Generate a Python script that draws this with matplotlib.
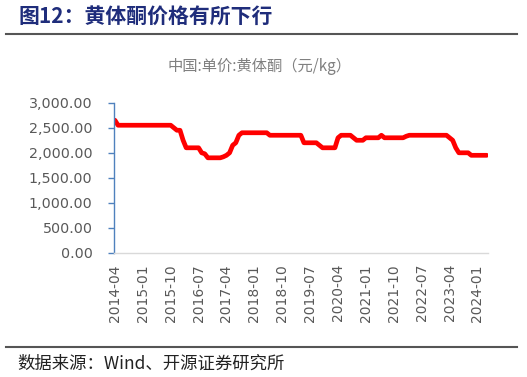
import matplotlib
matplotlib.use("Agg")
import matplotlib.pyplot as plt
from matplotlib.lines import Line2D

plt.rcParams['font.family'] = ['DejaVu Sans', 'Noto Sans CJK SC']

# Monthly series 2014-04 .. 2024-04 (yuan/kg)
months = [f"{2014 + (3 + i) // 12}-{(3 + i) % 12 + 1:02d}" for i in range(121)]
values = (
    [2650] + [2550] * 18 + [2500, 2450, 2450, 2250] + [2100] * 5 +
    [2000, 1980] + [1900] * 5 + [1920, 1950, 2000, 2150, 2200, 2350] +
    [2400] * 9 + [2350] * 11 + [2200] * 5 + [2150] + [2100] * 5 +
    [2300] + [2350] * 4 + [2300] + [2250] * 3 + [2300] * 5 + [2350] +
    [2300] * 7 + [2330] + [2350] * 13 + [2300, 2250, 2100, 2000] +
    [2000] * 3 + [1950] * 6
)
values = values[:121]
tick_labels = months[::9]
y_ticks = [0, 500, 1000, 1500, 2000, 2500, 3000]

fig = plt.figure(figsize=(5.27, 3.77), dpi=100)
ax = fig.add_axes([114 / 527, 1 - 253 / 377, (488 - 114) / 527, (253 - 102.7) / 377])

x = list(range(len(values)))
ax.plot(x, values, color='#ff0000', lw=3.4, solid_joinstyle='round', solid_capstyle='round')
ax.set_xlim(-0.3, 120.4)
ax.set_ylim(0, 3000)
ax.set_yticks(y_ticks)
ax.set_yticklabels([f"{v:,.2f}" for v in y_ticks], color='#595959', fontsize=10.3)
ax.set_xticks(x[::9])
ax.set_xticklabels(tick_labels, rotation=90, color='#595959', fontsize=10)
for s in ['top', 'right']:
    ax.spines[s].set_visible(False)
ax.spines['left'].set_color('#4f81bd')
ax.spines['left'].set_linewidth(1.0)
ax.spines['bottom'].set_color('#d9d9d9')
ax.spines['bottom'].set_linewidth(1.0)
ax.tick_params(axis='y', colors='#4f81bd', length=4.5, width=1, pad=11, labelcolor='#595959')
ax.tick_params(axis='x', length=0, pad=8)

fig.text(260 / 527, 1 - 66 / 377, "中国:单价:黄体酮（元/kg）", ha='center', va='center',
         fontsize=11, color='#808080', family=['Noto Sans CJK SC', 'DejaVu Sans'])

fig.text(18 / 527, 1 - 16 / 377, "图12：黄体酮价格有所下行", ha='left', va='center',
         fontsize=15, fontweight='bold', color='#1f2d7b', family=['Noto Sans CJK SC', 'DejaVu Sans'])

fig.add_artist(Line2D([6 / 527, 517 / 527], [1 - 33.5 / 377] * 2, color='#555555', lw=1.5,
                      transform=fig.transFigure))
fig.add_artist(Line2D([6 / 527, 517 / 527], [1 - 347 / 377] * 2, color='#555555', lw=1.5,
                      transform=fig.transFigure))

fig.text(17 / 527, 1 - 364 / 377, "数据来源：Wind、开源证券研究所", ha='left', va='center',
         fontsize=12.5, color='#222222', family=['Noto Sans CJK SC', 'DejaVu Sans'])

fig.savefig("out.png", dpi=100)
